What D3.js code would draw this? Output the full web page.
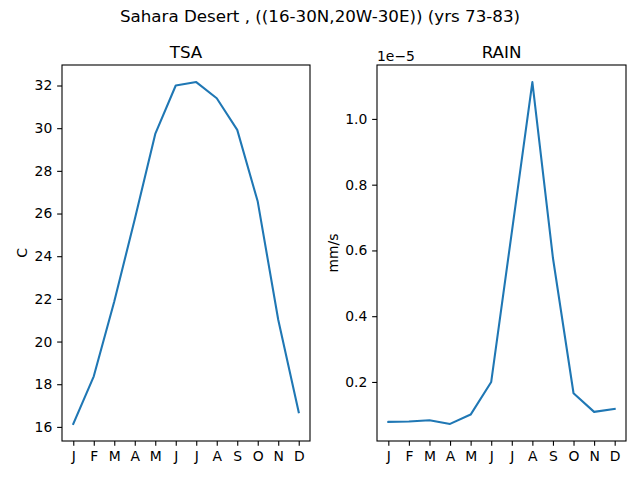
<!DOCTYPE html>
<html>
<head>
<meta charset="utf-8">
<title>Sahara Desert</title>
<script src="https://cdn.jsdelivr.net/npm/d3@7"></script>
<style>
  body { margin: 0; background: #fff; }
  text { font-family: "DejaVu Sans", sans-serif; fill: #000; }
</style>
</head>
<body>
<script>
// data
var months = ["J", "F", "M", "A", "M", "J", "J", "A", "S", "O", "N", "D"];
var tsa = [16.14, 18.37, 21.88, 25.73, 29.73, 32.0, 32.16, 31.40, 29.92, 26.56, 21.02, 16.69];
// mm/s
var rain = [0.0785e-5, 0.0795e-5, 0.0835e-5, 0.0724e-5, 0.1008e-5, 0.200e-5,
            0.655e-5, 1.112e-5, 0.577e-5, 0.1656e-5, 0.109e-5, 0.118e-5];
var tsaTicks = [16, 18, 20, 22, 24, 26, 28, 30, 32];
var rainTicks = [0.2e-5, 0.4e-5, 0.6e-5, 0.8e-5, 1.0e-5];

var W = 640, H = 480;
var svg = d3.select("body").append("svg")
  .attr("width", W).attr("height", H);

svg.append("text")
  .attr("x", 320).attr("y", 22)
  .attr("text-anchor", "middle")
  .style("font-size", "16.7px")
  .text("Sahara Desert , ((16-30N,20W-30E)) (yrs 73-83)");

var plotTop = 65, plotBottom = 441;
var tick = 4.86;

// one panel per variable
function panel(left, right, vals, ticks, fmt, title, ylab, ylabX) {
  var g = svg.append("g");
  var idx = d3.range(vals.length);

  var x = d3.scaleLinear()
    .domain([-0.55, 11.55])
    .range([left, right]);
  var lo = d3.min(vals), hi = d3.max(vals), pad = (hi - lo) * 0.05;
  var y = d3.scaleLinear()
    .domain([lo - pad, hi + pad])
    .range([plotBottom, plotTop]);

  var xAxis = d3.axisBottom(x).tickValues(idx)
    .tickFormat(function(i) { return months[i]; })
    .tickSize(tick).tickPadding(4.86);
  var yAxis = d3.axisLeft(y).tickValues(ticks)
    .tickFormat(fmt).tickSize(tick).tickPadding(4.86);

  var gx = g.append("g")
    .attr("transform", "translate(0," + plotBottom + ")")
    .call(xAxis);
  var gy = g.append("g")
    .attr("transform", "translate(" + left + ",0)")
    .call(yAxis);
  [gx, gy].forEach(function(a) {
    a.select(".domain").remove();
    a.selectAll("line").attr("stroke", "#000").attr("stroke-width", 1.1);
    a.selectAll("text").style("font-size", "13.9px").attr("fill", "#000")
      .attr("font-family", "DejaVu Sans");
  });

  g.append("path")
    .datum(vals)
    .attr("fill", "none")
    .attr("stroke", "#1f77b4")
    .attr("stroke-width", 2.08)
    .attr("stroke-linejoin", "round")
    .attr("stroke-linecap", "square")
    .attr("d", d3.line()
      .x(function(d, i) { return x(i); })
      .y(function(d) { return y(d); }));

  g.append("rect")
    .attr("x", left).attr("y", plotTop)
    .attr("width", right - left).attr("height", plotBottom - plotTop)
    .attr("fill", "none").attr("stroke", "#000").attr("stroke-width", 1.1);

  g.append("text")
    .attr("x", (left + right) / 2).attr("y", plotTop - 7)
    .attr("text-anchor", "middle")
    .style("font-size", "16.7px")
    .text(title);

  g.append("text")
    .attr("transform", "translate(" + ylabX + "," + (plotTop + plotBottom) / 2 + ") rotate(-90)")
    .attr("text-anchor", "middle")
    .style("font-size", "13.9px")
    .text(ylab);
  return g;
}

panel(62, 310, tsa, tsaTicks, d3.format("d"), "TSA", "C", 27);
var rp = panel(377, 626, rain, rainTicks,
  function(v) { return d3.format(".1f")(v * 1e5); }, "RAIN", "mm/s", 338);

rp.append("text")
  .attr("x", 377).attr("y", 61)
  .style("font-size", "13.9px")
  .text("1e\u22125");
</script>
</body>
</html>
